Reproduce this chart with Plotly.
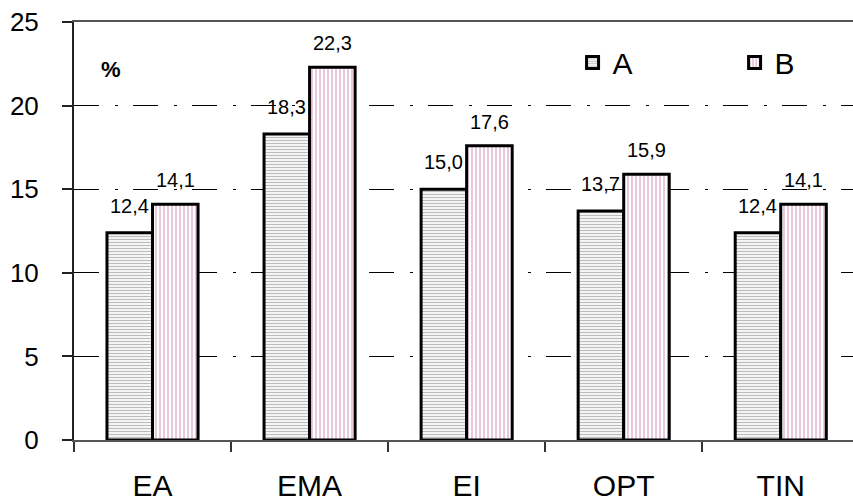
import plotly.graph_objects as go

categories = ["EA", "EMA", "EI", "OPT", "TIN"]
series_a = [12.4, 18.3, 15.0, 13.7, 12.4]
series_b = [14.1, 22.3, 17.6, 15.9, 14.1]
label_a = ["12,4", "18,3", "15,0", "13,7", "12,4"]
label_b = ["14,1", "22,3", "17,6", "15,9", "14,1"]
y_ticks = [0, 5, 10, 15, 20, 25]

FONT = "Liberation Sans, Arial, sans-serif"
NARROW = "Liberation Sans Narrow, Liberation Sans, Arial"

fig = go.Figure()
fig.add_trace(go.Bar(
    name="A", x=categories, y=series_a, legend="legend",
    marker=dict(color="white", line=dict(color="black", width=3),
                pattern=dict(shape="-", fgcolor="#7a7a7a", bgcolor="white", size=3, solidity=0.45)),
))
fig.add_trace(go.Bar(
    name="B", x=categories, y=series_b, legend="legend2",
    marker=dict(color="white", line=dict(color="black", width=3),
                pattern=dict(shape="|", fgcolor="#c0609a", bgcolor="white", size=4, solidity=0.35)),
))

offset = 0.145
for i, (va, vb) in enumerate(zip(series_a, series_b)):
    fig.add_annotation(x=i - offset, y=va, text=label_a[i], showarrow=False,
                       yshift=27, font=dict(size=20, color="black", family=FONT))
    fig.add_annotation(x=i + offset, y=vb, text=label_b[i], showarrow=False,
                       yshift=24, font=dict(size=20, color="black", family=FONT))

fig.add_annotation(x=0.032, y=0.92, xref="paper", yref="paper", text="<b>%</b>",
                   showarrow=False, font=dict(size=22, color="black", family=FONT))

legend_common = dict(orientation="h", xanchor="left", yanchor="middle",
                     font=dict(size=30, family=NARROW), bgcolor="rgba(0,0,0,0)")

fig.update_layout(
    width=853, height=504,
    margin=dict(l=74, r=0, t=22, b=64, autoexpand=False),
    paper_bgcolor="white", plot_bgcolor="white",
    barmode="group", bargap=0.42, bargroupgap=0,
    font=dict(family=FONT, color="black"),
    showlegend=True,
    legend=dict(x=0.64, y=0.903, **legend_common),
    legend2=dict(x=0.848, y=0.903, **legend_common),
    xaxis=dict(range=[-0.5, 4.46], showline=True, mirror=True, linecolor="#555555", linewidth=2,
               ticks="outside", tickson="boundaries", ticklen=10, tickcolor="#333333",
               tickwidth=1.5, showgrid=False, automargin=False,
               tickfont=dict(size=30, family=NARROW), ticklabelstandoff=18),
    yaxis=dict(range=[0, 25], tickvals=y_ticks, showline=True, linecolor="#222222", linewidth=2,
               ticks="outside", ticklen=10, tickcolor="#222222", tickwidth=1.5,
               showgrid=True, gridcolor="black", gridwidth=1.2, griddash="25px,16px,3px,15px",
               zeroline=False, automargin=False, tickfont=dict(size=26, family=FONT),
               ticklabelstandoff=18),
)

# remove the page's default 8px body margin so the figure fills the window exactly
fig.write_html("out.html", config={"displayModeBar": False},
               post_script="document.body.style.margin='0px';")
